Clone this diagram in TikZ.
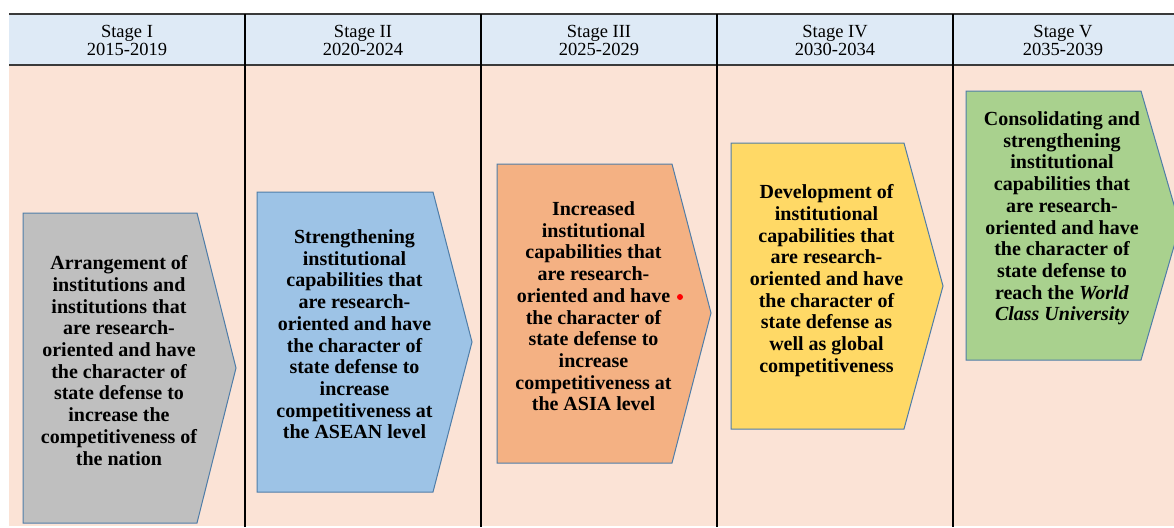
\documentclass[tikz,border=0pt]{standalone}
\usepackage{fontspec}
\setmainfont{Liberation Serif}
\definecolor{headfill}{HTML}{DEEAF6}
\definecolor{bodyfill}{HTML}{FBE3D6}
\definecolor{tableline}{HTML}{3A3A3A}
\definecolor{arrowline}{HTML}{4F7DA8}
\definecolor{grayfill}{HTML}{BFBFBF}
\definecolor{bluefill}{HTML}{9DC3E6}
\definecolor{orangefill}{HTML}{F4B183}
\definecolor{yellowfill}{HTML}{FFD966}
\definecolor{greenfill}{HTML}{A9D18E}
\begin{document}
\begin{tikzpicture}[x=1pt, y=-1pt,
  headtext/.style={align=center, inner sep=0pt, font=\fontsize{18.5}{18}\selectfont},
  boxtext/.style={align=center, inner sep=0pt, anchor=north, font=\fontsize{20}{21.7}\selectfont\bfseries},
  stagearrow/.style={draw=arrowline, line width=1pt, line join=miter}]
\clip (0,0) rectangle (1174,527);
% table
\fill[headfill] (9,14) rectangle (1174,65);
\fill[bodyfill] (9,65) rectangle (1174,526);
\draw[tableline, line width=2pt] (9,14) -- (1174,14);
\draw[tableline, line width=2pt] (9,65) -- (1174,65);
\foreach \x in {245, 481, ..., 953}
    \draw[line width=1.5pt] (\x,14) -- (\x,527);
\foreach \x/\stg/\yrs [count=\i] in {127/I/2015-2019, 363/II/2020-2024, 599/III/2025-2029, 835/IV/2030-2034, 1063/V/2035-2039}
    \node[headtext] (head\i) at (\x,40) {Stage \stg\\\yrs};
% stage I
\draw[stagearrow, fill=grayfill] (23,213) -- (197,213) -- (236,368) -- (197,523) -- (23,523) -- cycle;
\node[boxtext] (goal1) at (119,255.5) {Arrangement of\\institutions and\\institutions that\\are research-\\oriented and have\\the character of\\state defense to\\increase the\\competitiveness of\\the nation};
% stage II
\draw[stagearrow, fill=bluefill] (257,192) -- (433,192) -- (472,342) -- (433,492) -- (257,492) -- cycle;
\node[boxtext] (goal2) at (354.5,229.5) {Strengthening\\institutional\\capabilities that\\are research-\\oriented and have\\the character of\\state defense to\\increase\\competitiveness at\\the ASEAN level};
% stage III
\draw[stagearrow, fill=orangefill] (497,164) -- (672,164) -- (711,313) -- (672,463) -- (497,463) -- cycle;
\node[boxtext] (goal3) at (593.5,201.5) {Increased\\institutional\\capabilities that\\are research-\\oriented and have\\the character of\\state defense to\\increase\\competitiveness at\\the ASIA level};
\fill[red] (680,297) circle (3);
% stage IV
\draw[stagearrow, fill=yellowfill] (731,143) -- (904,143) -- (943,286) -- (904,429) -- (731,429) -- cycle;
\node[boxtext] (goal4) at (826.5,184.5) {Development of\\institutional\\capabilities that\\are research-\\oriented and have\\the character of\\state defense as\\well as global\\competitiveness};
% stage V
\draw[stagearrow, fill=greenfill] (966,91) -- (1141,91) -- (1180,225.5) -- (1141,360) -- (966,360) -- cycle;
\node[boxtext] (goal5) at (1062,111.5) {Consolidating and\\strengthening\\institutional\\capabilities that\\are research-\\oriented and have\\the character of\\state defense to\\reach the \textit{World}\\\textit{Class University}};
\end{tikzpicture}
\end{document}
